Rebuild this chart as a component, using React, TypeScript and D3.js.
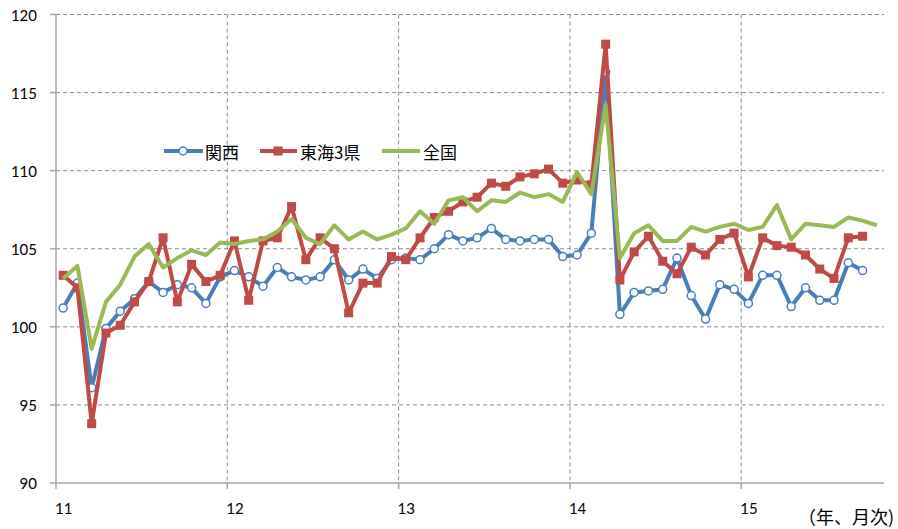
import React from "react";
import * as d3 from "d3";

const yearLabels = ["11", "12", "13", "14", "15"];
const yearStartIndex = [0, 12, 24, 36, 48];
const monthCount = 58;
const yTicks = [90, 95, 100, 105, 110, 115, 120];

const kansai = [
  101.2, 102.8, 96.1, 99.9, 101.0, 101.8, 102.9, 102.2, 102.7, 102.5, 101.5, 103.2,
  103.6, 103.2, 102.6, 103.8, 103.2, 103.0, 103.2, 104.3, 103.0, 103.7, 103.1, 104.3,
  104.4, 104.3, 105.0, 105.9, 105.5, 105.7, 106.3, 105.6, 105.5, 105.6, 105.6, 104.5,
  104.6, 106.0, 116.3, 100.8, 102.2, 102.3, 102.4, 104.4, 102.0, 100.5, 102.7, 102.4,
  101.5, 103.3, 103.3, 101.3, 102.5, 101.7, 101.7, 104.1, 103.6,
];
const tokai = [
  103.3, 102.5, 93.8, 99.6, 100.1, 101.6, 102.9, 105.7, 101.6, 104.0, 102.9, 103.3,
  105.5, 101.7, 105.5, 105.7, 107.7, 104.3, 105.7, 105.0, 100.9, 102.8, 102.8, 104.5,
  104.3, 105.7, 107.0, 107.4, 108.0, 108.3, 109.2, 109.0, 109.6, 109.8, 110.1, 109.2,
  109.4, 109.1, 118.1, 103.0, 104.8, 105.8, 104.2, 103.4, 105.1, 104.6, 105.6, 106.0,
  103.2, 105.7, 105.2, 105.1, 104.6, 103.7, 103.1, 105.7, 105.8,
];
const zenkoku = [
  103.1, 103.9, 98.6, 101.6, 102.7, 104.5, 105.3, 103.8, 104.4, 104.9, 104.6, 105.4,
  105.3, 105.5, 105.6, 106.1, 106.9, 105.7, 105.3, 106.5, 105.6, 106.1, 105.6, 105.9,
  106.3, 107.4, 106.6, 108.1, 108.3, 107.4, 108.1, 108.0, 108.6, 108.3, 108.5, 108.0,
  109.9, 108.5, 114.2, 104.4, 106.0, 106.5, 105.5, 105.5, 106.4, 106.1, 106.4, 106.6,
  106.2, 106.4, 107.8, 105.6, 106.6, 106.5, 106.4, 107.0, 106.8, 106.5,
];
const seriesNames = ["関西", "東海3県", "全国"];
const seriesColors = ["#4A7EBB", "#BE4B48", "#98B954"];

const W = 898;
const H = 529;
const left = 56;
const right = 884;
const top = 14.5;
const bottom = 483;

export default function App() {
  const x = d3.scaleLinear().domain([0, monthCount]).range([left, right]);
  const y = d3.scaleLinear().domain([90, 120]).range([bottom, top]);
  const line = d3
    .line<number>()
    .x((_, i) => x(i + 0.5))
    .y((d) => y(d));

  const numFont = "Lato, 'Noto Sans', sans-serif";
  const jpFont = "'Noto Sans CJK JP', sans-serif";

  return (
    <svg
      width={W}
      height={H}
      style={{ position: "absolute", left: 0, top: 0, background: "#fff" }}
    >
      {/* horizontal gridlines */}
      {yTicks
        .filter((t) => t !== 90)
        .map((t) => (
          <line
            key={"hg" + t}
            x1={left}
            x2={right}
            y1={y(t)}
            y2={y(t)}
            stroke="#8c8c8c"
            strokeWidth={1}
            strokeDasharray="4,3"
          />
        ))}
      {/* vertical gridlines */}
      {yearStartIndex.slice(1).map((i) => (
        <line
          key={"vg" + i}
          x1={x(i)}
          x2={x(i)}
          y1={top}
          y2={bottom}
          stroke="#8c8c8c"
          strokeWidth={1}
          strokeDasharray="4,3"
        />
      ))}
      {/* axes */}
      <line x1={left} x2={left} y1={top} y2={bottom} stroke="#a6a6a6" strokeWidth={1.5} />
      <line x1={left} x2={right} y1={bottom} y2={bottom} stroke="#a6a6a6" strokeWidth={1.5} />
      {yTicks.map((t) => (
        <g key={"yt" + t}>
          <line x1={left - 6} x2={left} y1={y(t)} y2={y(t)} stroke="#a6a6a6" strokeWidth={1.5} />
          <text
            x={37}
            y={y(t)}
            textAnchor="end"
            dominantBaseline="central"
            fontFamily={numFont}
            fontSize={15}
            fill="#000"
          >
            {t}
          </text>
        </g>
      ))}
      {yearStartIndex.map((i, k) => (
        <g key={"xt" + i}>
          <line x1={x(i)} x2={x(i)} y1={bottom} y2={bottom + 6} stroke="#a6a6a6" strokeWidth={1.5} />
          <text
            x={x(i) - 1}
            y={514}
            textAnchor="start"
            fontFamily={numFont}
            fontSize={15}
            fill="#000"
          >
            {yearLabels[k]}
          </text>
        </g>
      ))}
      <text x={894} y={524} textAnchor="end" fontFamily={jpFont} fontSize={18} fill="#000">
        （年、月次)
      </text>

      {/* series */}
      <path d={line(kansai) || ""} fill="none" stroke={seriesColors[0]} strokeWidth={4} strokeLinejoin="round" />
      {kansai.map((v, i) => (
        <circle
          key={"k" + i}
          cx={x(i + 0.5)}
          cy={y(v)}
          r={4}
          fill="#fff"
          stroke={seriesColors[0]}
          strokeWidth={1.5}
        />
      ))}
      <path d={line(tokai) || ""} fill="none" stroke={seriesColors[1]} strokeWidth={4} strokeLinejoin="round" />
      {tokai.map((v, i) => (
        <rect
          key={"t" + i}
          x={x(i + 0.5) - 4.5}
          y={y(v) - 4.5}
          width={9}
          height={9}
          fill={seriesColors[1]}
        />
      ))}
      <path d={line(zenkoku) || ""} fill="none" stroke={seriesColors[2]} strokeWidth={4} strokeLinejoin="round" />

      {/* legend */}
      <g>
        <line x1={164} x2={203} y1={151} y2={151} stroke={seriesColors[0]} strokeWidth={4} />
        <circle cx={183} cy={151} r={4} fill="#fff" stroke={seriesColors[0]} strokeWidth={1.5} />
        <text x={205} y={151} dominantBaseline="central" fontFamily={jpFont} fontSize={17} fill="#000">
          {seriesNames[0]}
        </text>
        <line x1={260} x2={297} y1={151} y2={151} stroke={seriesColors[1]} strokeWidth={4} />
        <rect x={273.5} y={146.5} width={9} height={9} fill={seriesColors[1]} />
        <text x={300} y={151} dominantBaseline="central" fontFamily={jpFont} fontSize={17} fill="#000">
          {seriesNames[1]}
        </text>
        <line x1={382} x2={420} y1={151} y2={151} stroke={seriesColors[2]} strokeWidth={4} />
        <text x={423} y={151} dominantBaseline="central" fontFamily={jpFont} fontSize={17} fill="#000">
          {seriesNames[2]}
        </text>
      </g>
    </svg>
  );
}
